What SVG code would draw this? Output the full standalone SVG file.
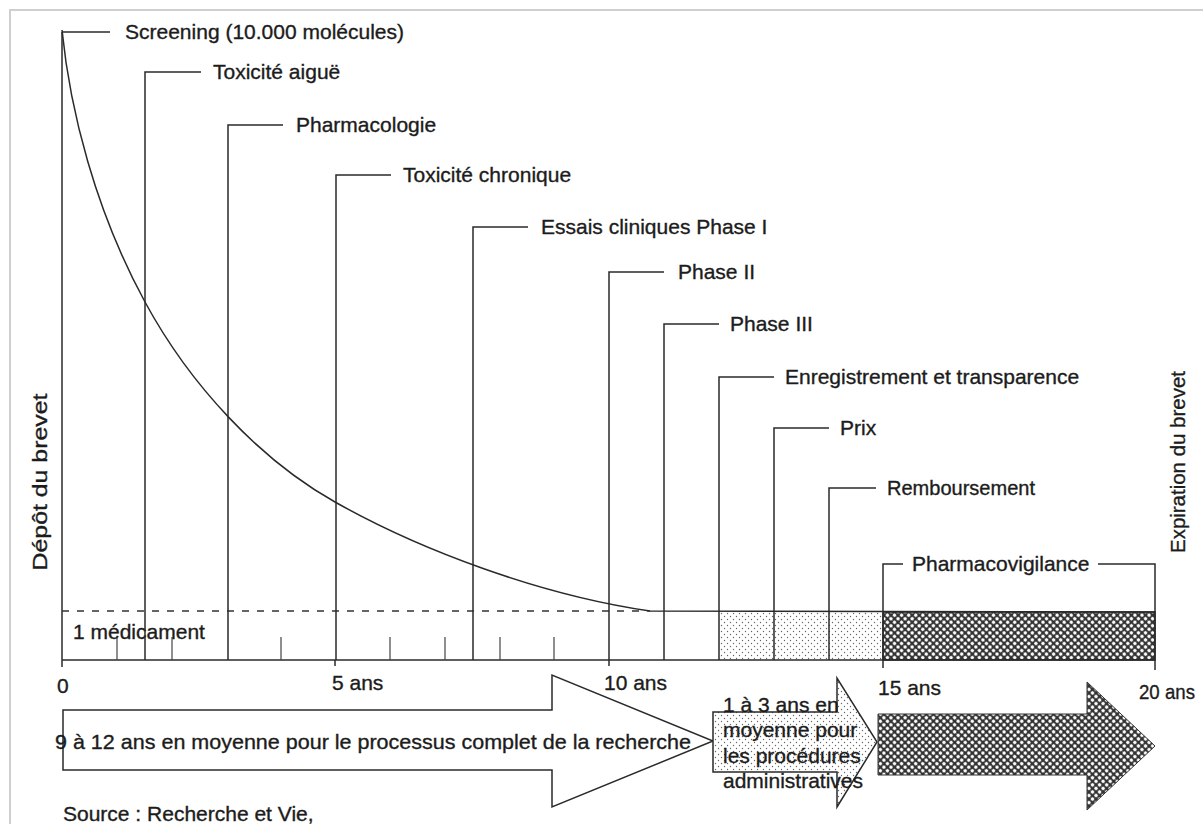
<svg xmlns="http://www.w3.org/2000/svg" width="1203" height="824" viewBox="0 0 1203 824">
<style>
text{font-family:"Liberation Sans",Arial,sans-serif;font-size:21px;fill:#1c1c1c;stroke:#1c1c1c;stroke-width:0.35}
.ln{stroke:#2a2a2a;stroke-width:1.5;fill:none}
.thin{stroke:#444;stroke-width:1.2;fill:none}
.arrow{stroke:#2a2a2a;stroke-width:1.5}
</style>
<defs>
<pattern id="dots" width="6" height="6" patternUnits="userSpaceOnUse">
<rect width="6" height="6" fill="#fff"/>
<circle cx="1.5" cy="1.5" r="0.7" fill="#666"/>
<circle cx="4.5" cy="4.5" r="0.7" fill="#666"/>
</pattern>
<pattern id="mesh" width="5" height="5" patternUnits="userSpaceOnUse" patternTransform="rotate(45)">
<rect width="5" height="5" fill="#333"/>
<circle cx="2.5" cy="2.5" r="1.75" fill="#fff"/>
</pattern>
</defs>
<rect width="1203" height="824" fill="#fff"/>
<path d="M10,824 V10 H1203" stroke="#cfcfcf" stroke-width="2" fill="none"/>

<!-- filled bands -->
<g id="bands">
<rect x="719" y="612" width="164" height="48" fill="url(#dots)"/>
<rect x="883" y="612" width="272" height="48" fill="url(#mesh)" stroke="#2a2a2a" stroke-width="1.5"/>
</g>

<!-- axis, curve -->
<g id="axis">
<line class="ln" x1="62" y1="660" x2="1155" y2="660"/>
<line class="ln" x1="62" y1="32" x2="62" y2="667"/>
<line class="ln" x1="335" y1="660" x2="335" y2="666"/>
<line class="ln" x1="609" y1="660" x2="609" y2="666"/>
<line class="ln" x1="883" y1="660" x2="883" y2="668"/>
<line class="ln" x1="1155" y1="660" x2="1155" y2="670"/>
<g class="thin">
<line x1="117" y1="637" x2="117" y2="660"/>
<line x1="172" y1="637" x2="172" y2="660"/>
<line x1="281" y1="637" x2="281" y2="660"/>
<line x1="390" y1="637" x2="390" y2="660"/>
<line x1="445" y1="637" x2="445" y2="660"/>
<line x1="500" y1="637" x2="500" y2="660"/>
<line x1="554" y1="637" x2="554" y2="660"/>
</g>
<text x="57" y="693">0</text>
<text x="332" y="690">5 ans</text>
<text x="604" y="690">10 ans</text>
<text x="878" y="695">15 ans</text>
<text x="1139" y="699" textLength="56" lengthAdjust="spacingAndGlyphs">20 ans</text>
</g>

<g id="curve">
<path class="ln" d="M62,30 C70,110 95,210 145,302 C190,385 260,460 335,502 C420,550 540,595 650,611 L1155,612"/>
<line x1="62" y1="611" x2="650" y2="611" stroke="#333" stroke-width="1.3" stroke-dasharray="7,8"/>
<text x="73" y="639">1 médicament</text>
</g>

<g id="connectors">
<path class="ln" d="M62,32 H110"/>
<path class="ln" d="M145,660 V72 H201"/>
<path class="ln" d="M228,660 V125 H283"/>
<path class="ln" d="M336,660 V175 H391"/>
<path class="ln" d="M473,660 V227 H528"/>
<path class="ln" d="M609,660 V272 H664"/>
<path class="ln" d="M664,660 V324 H719"/>
<path class="ln" d="M719,660 V377 H774"/>
<path class="ln" d="M774,660 V428 H829"/>
<path class="ln" d="M829,660 V488 H876"/>
<path class="ln" d="M883,660 V564 H903"/>
<path class="ln" d="M1098,564 H1155 V660"/>
</g>

<g id="labels">
<g id="n-screening"><text x="125" y="39">Screening (10.000 molécules)</text></g>
<g id="n-toxaigue"><text x="213" y="79">Toxicité aiguë</text></g>
<g id="n-pharmaco"><text x="296" y="132">Pharmacologie</text></g>
<g id="n-toxchron"><text x="403" y="182">Toxicité chronique</text></g>
<g id="n-phase1"><text x="541" y="234">Essais cliniques Phase I</text></g>
<g id="n-phase2"><text x="678" y="279">Phase II</text></g>
<g id="n-phase3"><text x="730" y="331">Phase III</text></g>
<g id="n-enreg"><text x="785" y="384">Enregistrement et transparence</text></g>
<g id="n-prix"><text x="840" y="435">Prix</text></g>
<g id="n-rembours"><text x="887" y="495" textLength="148" lengthAdjust="spacingAndGlyphs">Remboursement</text></g>
<g id="n-pharmacovig"><text x="912" y="571">Pharmacovigilance</text></g>
<g id="n-depot"><text transform="translate(47,482) rotate(-90)" text-anchor="middle" textLength="177" lengthAdjust="spacingAndGlyphs">Dépôt du brevet</text></g>
<g id="n-expiration"><text transform="translate(1185,462) rotate(-90)" text-anchor="middle" textLength="182" lengthAdjust="spacingAndGlyphs">Expiration du brevet</text></g>
</g>

<g id="arrows">
<g id="arrow-recherche">
<polygon class="arrow" fill="#fff" points="63,710 552,710 552,675 713,741 552,807 552,770 63,770"/>
<text x="55" y="749" textLength="636" lengthAdjust="spacingAndGlyphs">9 à 12 ans en moyenne pour le processus complet de la recherche</text>
</g>
<g id="arrow-admin">
<polygon class="arrow" fill="url(#dots)" points="713,712 837,712 837,678 877,742 837,807 837,772 713,772"/>
<text x="723" y="712">1 à 3 ans en</text>
<text x="723" y="737">moyenne pour</text>
<text x="723" y="763">les procédures</text>
<text x="723" y="788">administratives</text>
</g>
<g id="arrow-commercial">
<polygon fill="url(#mesh)" stroke="#333" stroke-width="1" points="878,714 1087,714 1087,682 1155,746 1087,810 1087,775 878,775"/>
</g>
</g>

<g id="source"><text x="63" y="821">Source : Recherche et Vie,</text></g>
</svg>
